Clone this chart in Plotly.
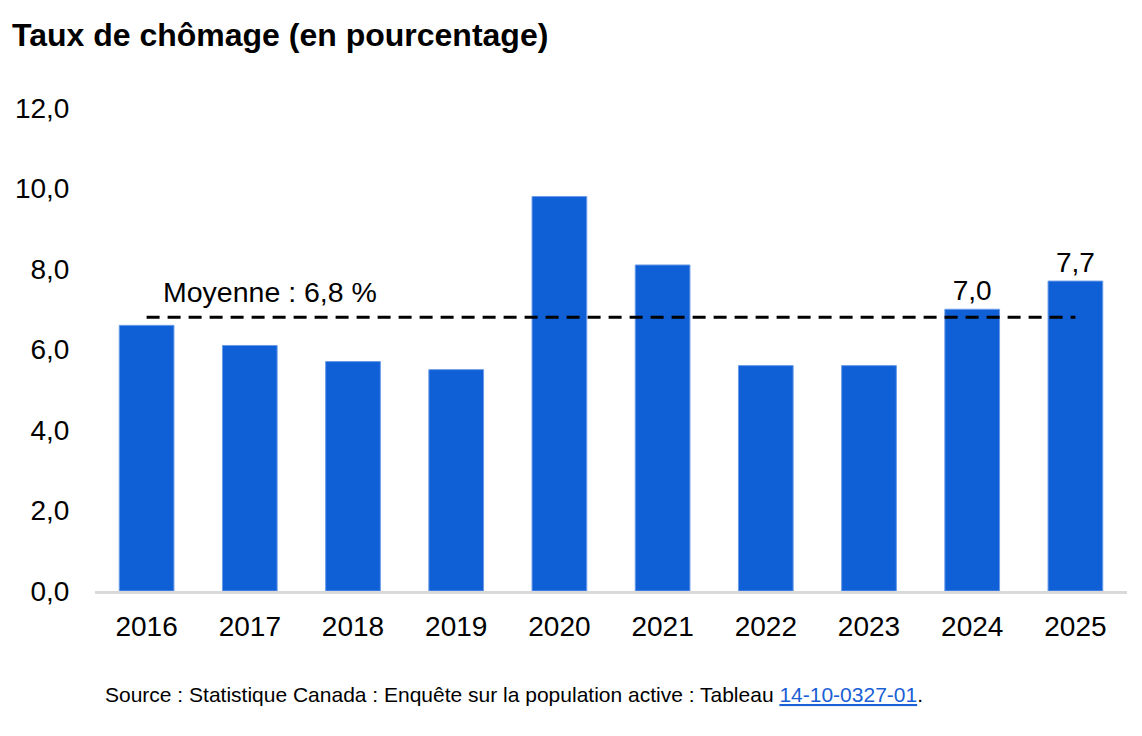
import plotly.graph_objects as go

# donnees
annees = ["2016", "2017", "2018", "2019", "2020", "2021", "2022", "2023", "2024", "2025"]
taux = [6.6, 6.1, 5.7, 5.5, 9.8, 8.1, 5.6, 5.6, 7.0, 7.7]
etiquettes = ["", "", "", "", "", "", "", "", "7,0", "7,7"]
moyenne = 6.8

BLEU = "#0f5fd7"

fig = go.Figure()
fig.add_trace(go.Bar(
    x=annees, y=taux,
    marker=dict(color=BLEU, line=dict(color="#6a9ae8", width=1)),
    width=0.53,
    text=etiquettes, textposition="outside", cliponaxis=False,
    textfont=dict(size=28, color="black"),
    hoverinfo="x+y"))

# ligne de la moyenne
fig.add_trace(go.Scatter(
    x=[annees[0], annees[-1]], y=[moyenne, moyenne],
    mode="lines", line=dict(color="black", width=3, dash="13px,8px"),
    hoverinfo="skip"))

fig.add_annotation(x=0.136, y=moyenne, text="Moyenne : 6,8 %",
                   showarrow=False, xanchor="left", yanchor="middle",
                   yshift=25, font=dict(size=28.5, color="black"))

# la page ajoute une marge de 8 px autour de la figure
fig.update_layout(
    width=1134, height=728,
    margin=dict(l=87, r=15, t=100, b=145),
    plot_bgcolor="white", paper_bgcolor="white",
    font=dict(family="Liberation Sans, Arial, sans-serif", color="black"),
    separators=", ",
    showlegend=False,
    title=dict(text="<b>Taux de chômage (en pourcentage)</b>",
               x=0.0035, xanchor="left", y=0.963, yanchor="middle",
               font=dict(size=32, color="black")),
    xaxis=dict(type="category", showgrid=False, showline=True,
               linecolor="#d9d9d9", linewidth=3, automargin=False,
               ticks="outside", ticklen=8, tickcolor="white",
               tickfont=dict(size=28), range=[-0.5, 9.5]),
    yaxis=dict(range=[0, 12], dtick=2, tickformat=".1f", showgrid=False,
               zeroline=False, showline=False, tickfont=dict(size=28),
               automargin=False,
               ticks="outside", ticklen=19, tickcolor="white"),
)

fig.add_annotation(
    xref="paper", yref="paper", x=0, y=-0.215, xshift=8,
    xanchor="left", yanchor="middle", showarrow=False,
    text="Source : Statistique Canada : Enquête sur la population active : Tableau "
         "<a href='https://www150.statcan.gc.ca/t1/tbl1/fr/tv.action?pid=1410032701'>"
         "<span style='color:#1a5fd6'><u>14-10-0327-01</u></span></a>.",
    font=dict(size=21, color="black"))

fig.write_html("out.html")
